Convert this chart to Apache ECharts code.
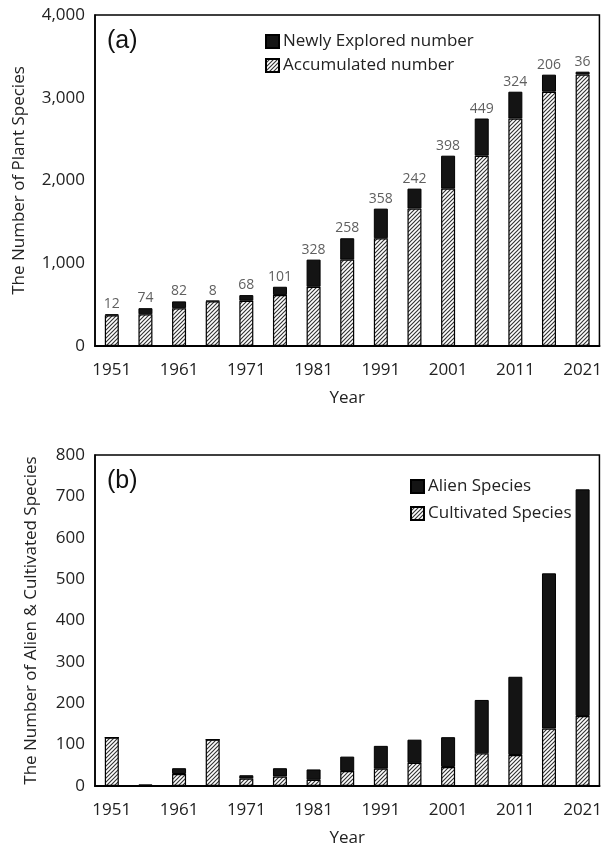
<!DOCTYPE html>
<html>
<head>
<meta charset="utf-8">
<script src="https://cdn.jsdelivr.net/npm/echarts@6/dist/echarts.min.js"></script>
<style>
html,body{margin:0;padding:0;background:#fff;}
#c{width:605px;height:848px;}
</style>
</head>
<body>
<div id="c"></div>
<script>
// ---- data ----
const years = ['1951','1956','1961','1966','1971','1976','1981','1986','1991','1996','2001','2006','2011','2016','2021'];
const newlyExplored = [12, 74, 82, 8, 68, 101, 328, 258, 358, 242, 398, 449, 324, 206, 36];
const accumulated = [371, 383, 457, 539, 547, 615, 716, 1044, 1302, 1660, 1902, 2300, 2749, 3073, 3279];
const alienSpecies = [0, 4, 14, 0, 8, 20, 25, 35, 55, 56, 72, 129, 189, 375, 548];
const cultivatedSpecies = [117, 0, 29, 112, 18, 23, 15, 36, 42, 56, 46, 79, 75, 139, 169];
const topTicks = [0, 1000, 2000, 3000, 4000];
const bottomTicks = [0, 100, 200, 300, 400, 500, 600, 700, 800];

// hatch pattern
function hatch() {
  const s = 4;
  const cv = document.createElement('canvas');
  cv.width = s; cv.height = s;
  const ctx = cv.getContext('2d');
  ctx.fillStyle = '#fff';
  ctx.fillRect(0, 0, s, s);
  ctx.strokeStyle = '#333';
  ctx.lineWidth = 1.15;
  ctx.beginPath();
  ctx.moveTo(-1, s + 1); ctx.lineTo(s + 1, -1);
  ctx.moveTo(-1, 1); ctx.lineTo(1, -1);
  ctx.moveTo(s - 1, s + 1); ctx.lineTo(s + 1, s - 1);
  ctx.stroke();
  return { image: cv, repeat: 'repeat' };
}
const hatchFill = hatch();
const FONT = 'Open Sans';
const TXT = '#222';

const chart = echarts.init(document.getElementById('c'), null, { renderer: 'canvas' });

function xAx(gi) {
  return {
    type: 'category', gridIndex: gi, data: years,
    axisTick: { show: false },
    axisLine: { lineStyle: { color: '#000', width: 2 } },
    axisLabel: { interval: 1, color: TXT, fontFamily: FONT, fontSize: 17, margin: 16 },
    name: 'Year', nameLocation: 'middle', nameGap: 44,
    nameTextStyle: { color: TXT, fontFamily: FONT, fontSize: 17 }
  };
}
function yAx(gi, ticks, name, gap) {
  return {
    type: 'value', gridIndex: gi, min: ticks[0], max: ticks[ticks.length - 1],
    interval: ticks[1] - ticks[0],
    splitLine: { show: false },
    axisTick: { show: false },
    axisLine: { show: true, lineStyle: { color: '#000', width: 1.5 } },
    axisLabel: { color: TXT, fontFamily: FONT, fontSize: 17, margin: 10,
      formatter: v => v.toLocaleString('en-US') },
    name: name, nameLocation: 'middle', nameGap: gap,
    nameTextStyle: { color: TXT, fontFamily: FONT, fontSize: 17 }
  };
}

const option = {
  animation: false,
  backgroundColor: '#fff',
  grid: [
    { left: 95, right: 4, top: 15, height: 331, show: true, borderColor: '#000', borderWidth: 1.5 },
    { left: 95, right: 4, top: 455, height: 331, show: true, borderColor: '#000', borderWidth: 1.5 }
  ],
  xAxis: [xAx(0), xAx(1)],
  yAxis: [
    yAx(0, topTicks, 'The Number of Plant Species', 67),
    yAx(1, bottomTicks, 'The Number of Alien & Cultivated Species', 55)
  ],
  legend: [
    { data: ['Newly Explored number', 'Accumulated number'], orient: 'vertical', icon: 'rect',
      left: 265, top: 33, padding: 0, itemWidth: 13, itemHeight: 13, itemGap: 7,
      textStyle: { color: TXT, fontFamily: FONT, fontSize: 17, padding: [0, 0, 0, -1] } },
    { data: ['Alien Species', 'Cultivated Species'], orient: 'vertical', icon: 'rect',
      left: 410, top: 478, padding: 0, itemWidth: 13, itemHeight: 13, itemGap: 10,
      textStyle: { color: TXT, fontFamily: FONT, fontSize: 17, padding: [0, 0, 0, -1] } }
  ],
  graphic: [
    { type: 'text', left: 107, top: 29, style: { text: '(a)', font: '25px "Liberation Sans"', fill: '#111' } },
    { type: 'text', left: 107, top: 469, style: { text: '(b)', font: '25px "Liberation Sans"', fill: '#111' } }
  ],
  series: [
    { name: 'Accumulated number', type: 'bar', xAxisIndex: 0, yAxisIndex: 0, stack: 'a',
      data: accumulated, barWidth: 14,
      itemStyle: { color: hatchFill, borderColor: '#000', borderWidth: 1.2 } },
    { name: 'Newly Explored number', type: 'bar', xAxisIndex: 0, yAxisIndex: 0, stack: 'a',
      data: newlyExplored, barWidth: 14,
      itemStyle: { color: '#141414', borderColor: '#000', borderWidth: 1 },
      label: { show: true, position: 'top', distance: 3, color: '#5f5f5f', fontFamily: FONT, fontSize: 14 } },
    { name: 'Cultivated Species', type: 'bar', xAxisIndex: 1, yAxisIndex: 1, stack: 'b',
      data: cultivatedSpecies, barWidth: 14,
      itemStyle: { color: hatchFill, borderColor: '#000', borderWidth: 1.2 } },
    { name: 'Alien Species', type: 'bar', xAxisIndex: 1, yAxisIndex: 1, stack: 'b',
      data: alienSpecies, barWidth: 14,
      itemStyle: { color: '#141414', borderColor: '#000', borderWidth: 1 } }
  ]
};
chart.setOption(option);
</script>
</body>
</html>
